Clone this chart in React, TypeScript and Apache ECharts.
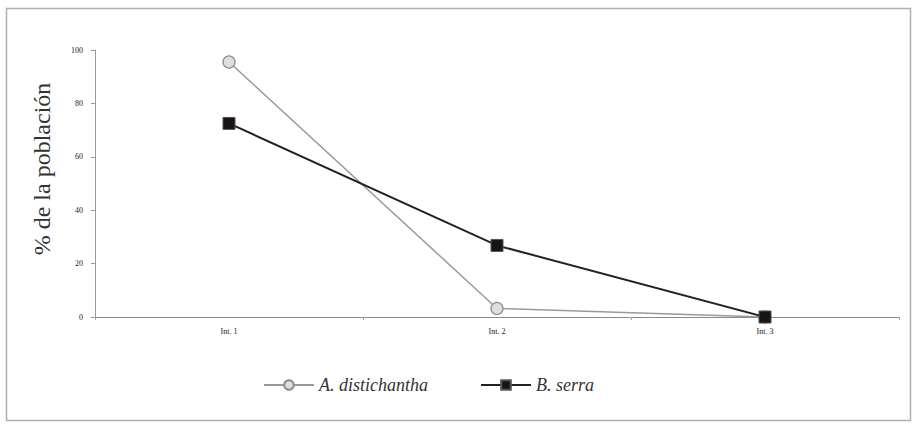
import React, { useEffect, useRef } from "react";
import * as echarts from "echarts";

const categories = ["Int. 1", "Int. 2", "Int. 3"];
const seriesA = [95.5, 3.2, 0];
const seriesB = [72.5, 26.8, 0];
const yTicks = [0, 20, 40, 60, 80, 100];
const nameA = "A. distichantha";
const nameB = "B. serra";
const yTitle = "% de la población";

export default function App() {
  const ref = useRef<HTMLDivElement>(null);
  useEffect(() => {
    if (!ref.current) return;
    const chart = echarts.init(ref.current, null, { renderer: "svg" });
    const serif = "'Liberation Serif', 'DejaVu Serif', serif";
    chart.setOption({
      animation: false,
      backgroundColor: "#ffffff",
      grid: { left: 95, right: 18, top: 50, bottom: 107, containLabel: false },
      graphic: [
        {
          type: "rect",
          shape: { x: 6.5, y: 8.5, width: 904, height: 412 },
          style: { fill: "none", stroke: "#b0b0b0", lineWidth: 1.5 },
          silent: true,
          z: -1,
        },
        {
          type: "text",
          x: 42,
          y: 169,
          rotation: Math.PI / 2,
          style: {
            text: yTitle,
            font: `24px ${serif}`,
            fill: "#333333",
            align: "center",
            verticalAlign: "middle",
          },
        },
      ],
      legend: {
        bottom: 25,
        left: 258,
        itemGap: 52,
        itemWidth: 50,
        itemHeight: 12,
        textStyle: { fontFamily: serif, fontStyle: "italic", fontSize: 18, color: "#333" },
        data: [nameA, nameB],
      },
      xAxis: {
        type: "category",
        data: categories,
        boundaryGap: true,
        axisLine: { lineStyle: { color: "#8a8a8a", width: 1 } },
        axisTick: { show: true, length: 3, lineStyle: { color: "#aaa" } },
        axisLabel: { fontFamily: serif, fontSize: 8, color: "#222222", margin: 10 },
      },
      yAxis: {
        type: "value",
        min: 0,
        max: 100,
        interval: 20,
        axisLine: { show: true, lineStyle: { color: "#9a9a9a", width: 1 } },
        axisTick: { show: true, length: 4, lineStyle: { color: "#999" } },
        splitLine: { show: false },
        axisLabel: {
          fontFamily: serif,
          fontSize: 8,
          color: "#222222",
          margin: 12,
          formatter: (v: number) => (yTicks.includes(v) ? String(v) : ""),
        },
      },
      series: [
        {
          name: nameA,
          type: "line",
          data: seriesA,
          symbol: "circle",
          symbolSize: 12,
          lineStyle: { color: "#9a9a9a", width: 1.5 },
          itemStyle: { color: "#dedede", borderColor: "#8a8a8a", borderWidth: 1.2 },
          z: 2,
        },
        {
          name: nameB,
          type: "line",
          data: seriesB,
          symbol: "rect",
          symbolSize: 12,
          lineStyle: { color: "#222222", width: 2 },
          itemStyle: { color: "#1a1512", borderColor: "#555", borderWidth: 1 },
          z: 3,
        },
      ],
    });
    return () => chart.dispose();
  }, []);
  return (
    <div
      ref={ref}
      style={{ position: "fixed", left: 0, top: 0, width: 917, height: 424 }}
    />
  );
}
